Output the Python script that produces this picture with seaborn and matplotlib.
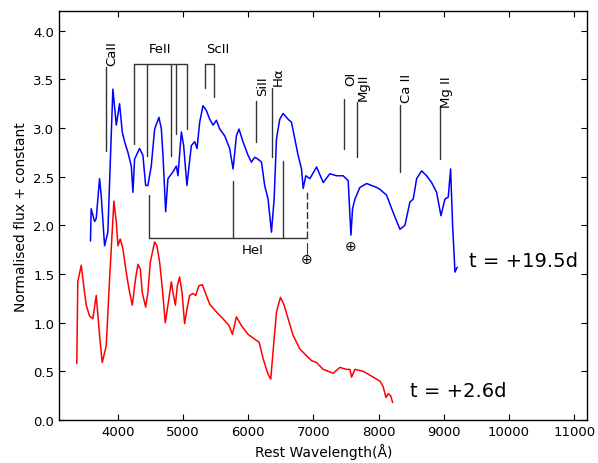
import numpy as np
import pandas as pd
import seaborn as sns
import matplotlib.pyplot as plt

# spectrum at t = +19.5d (offset by constant)
wave_195 = [3580, 3590, 3643, 3668, 3719, 3744, 3796, 3846, 3923, 3976, 4026, 4067, 4103,
            4154, 4206, 4231, 4256, 4333, 4384, 4426, 4461, 4512, 4564, 4630, 4667, 4692,
            4733, 4768, 4845, 4897, 4922, 4974, 5009, 5059, 5127, 5179, 5214, 5255, 5306,
            5358, 5409, 5460, 5512, 5562, 5639, 5715, 5767, 5818, 5858, 5919, 5997, 6048,
            6100, 6150, 6203, 6252, 6304, 6356, 6397, 6433, 6483, 6535, 6612, 6663, 6714,
            6765, 6817, 6843, 6883, 6945, 7048, 7150, 7251, 7354, 7455, 7533, 7575, 7600,
            7636, 7713, 7816, 7969, 8020, 8122, 8224, 8327, 8403, 8480, 8531, 8583, 8660,
            8736, 8813, 8889, 8956, 9017, 9068, 9104, 9135, 9171, 9206]
flux_195 = [1.84, 2.17, 2.04, 2.07, 2.48, 2.31, 1.79, 1.93, 3.40, 3.03, 3.25, 2.96, 2.86,
            2.75, 2.61, 2.34, 2.68, 2.79, 2.72, 2.41, 2.41, 2.61, 2.99, 3.11, 2.99, 2.72,
            2.14, 2.48, 2.55, 2.61, 2.51, 2.96, 2.82, 2.41, 2.82, 2.86, 2.79, 3.06, 3.23,
            3.18, 3.09, 3.03, 3.08, 2.99, 2.92, 2.79, 2.58, 2.92, 2.99, 2.86, 2.72, 2.65,
            2.70, 2.68, 2.65, 2.41, 2.27, 1.93, 2.27, 2.89, 3.09, 3.15, 3.09, 3.06, 2.89,
            2.72, 2.58, 2.38, 2.51, 2.48, 2.60, 2.44, 2.53, 2.51, 2.51, 2.46, 1.90, 2.17,
            2.27, 2.39, 2.43, 2.39, 2.37, 2.31, 2.13, 1.96, 2.00, 2.24, 2.27, 2.48, 2.56,
            2.51, 2.44, 2.34, 2.10, 2.27, 2.29, 2.58, 2.00, 1.52, 1.57]

# spectrum at t = +2.6d
wave_26 = [3370, 3385, 3438, 3463, 3514, 3565, 3616, 3668, 3719, 3760, 3821, 3873, 3939,
           3976, 4001, 4036, 4077, 4128, 4169, 4221, 4271, 4308, 4344, 4374, 4426, 4461,
           4497, 4564, 4599, 4641, 4682, 4727, 4768, 4820, 4845, 4882, 4912, 4947, 4984,
           5024, 5060, 5101, 5152, 5194, 5244, 5296, 5357, 5409, 5512, 5613, 5705, 5757,
           5818, 5895, 5997, 6100, 6166, 6228, 6304, 6345, 6380, 6433, 6494, 6545, 6612,
           6688, 6791, 6894, 6970, 7048, 7150, 7303, 7405, 7507, 7560, 7585, 7636, 7764,
           7918, 8020, 8071, 8112, 8147, 8184, 8215]
flux_26 = [0.58, 1.42, 1.59, 1.45, 1.18, 1.07, 1.04, 1.28, 0.87, 0.59, 0.76, 1.45, 2.25,
           2.03, 1.79, 1.86, 1.76, 1.52, 1.35, 1.18, 1.45, 1.60, 1.55, 1.31, 1.16, 1.31,
           1.62, 1.83, 1.79, 1.62, 1.35, 1.00, 1.18, 1.42, 1.31, 1.18, 1.38, 1.47, 1.31,
           0.99, 1.14, 1.28, 1.30, 1.28, 1.38, 1.39, 1.28, 1.19, 1.11, 1.04, 0.97, 0.88,
           1.06, 0.97, 0.88, 0.83, 0.80, 0.63, 0.47, 0.42, 0.70, 1.11, 1.26, 1.19, 1.04,
           0.87, 0.73, 0.66, 0.61, 0.59, 0.52, 0.48, 0.54, 0.52, 0.52, 0.44, 0.52, 0.50,
           0.44, 0.40, 0.34, 0.23, 0.27, 0.25, 0.18]

# single line identifications: label, wavelength, top, bottom, label height
single_labels = ["CaII", "SiII", "Hα", "OI", "MgII", "Ca II", "Mg II"]
single_wave = [3811, 6115, 6366, 7472, 7662, 8327, 8942]
single_top = [3.63, 3.28, 3.41, 3.30, 3.27, 3.24, 3.23]
single_bot = [2.76, 2.86, 2.70, 2.78, 2.70, 2.55, 2.68]
single_text_y = [3.65, 3.34, 3.44, 3.44, 3.29, 3.27, 3.22]

# bracketed identifications
feii_wave = [4246, 4452, 4814, 4897, 5060]
feii_bot = [2.84, 2.71, 2.71, 2.94, 2.99]
scii_wave = [5343, 5475]
scii_bot = [3.41, 3.32]
hei_wave = [4472, 5767, 6535, 6894]
hei_top = [2.31, 2.46, 2.66, 2.36]
telluric_wave = [6894, 7575]
telluric_y = [1.65, 1.79]

df_195 = pd.DataFrame({"wave": wave_195, "flux": flux_195})
df_26 = pd.DataFrame({"wave": wave_26, "flux": flux_26})

sns.set_style("ticks")
plt.rcParams.update({
    "font.family": ["DejaVu Sans"],
    "text.color": "black",
    "axes.labelcolor": "black",
    "xtick.color": "black",
    "ytick.color": "black",
    "xtick.direction": "in",
    "ytick.direction": "in",
    "xtick.top": True,
    "ytick.right": True,
    "xtick.major.size": 4,
    "ytick.major.size": 4,
    "axes.edgecolor": "black",
    "axes.linewidth": 1.0,
    "xtick.labelsize": 9.5,
    "ytick.labelsize": 9.5,
})

fig = plt.figure(figsize=(5.98, 4.64), dpi=100)
ax = fig.add_axes([0.099, 0.0927, 0.883, 0.8808])

sns.lineplot(data=df_195, x="wave", y="flux", color="#0000ff", lw=1.1,
             sort=False, estimator=None, ax=ax)
sns.lineplot(data=df_26, x="wave", y="flux", color="#ff0000", lw=1.1,
             sort=False, estimator=None, ax=ax)

lc = "0.2"
for lab, w, t, b, ty in zip(single_labels, single_wave, single_top, single_bot, single_text_y):
    ax.plot([w, w], [b, t], color=lc, lw=1.0)
    ax.text(w, ty, lab, rotation=90, ha="left", va="bottom", fontsize=9.5)

# FeII bracket
ax.plot([feii_wave[0], feii_wave[-1]], [3.66, 3.66], color=lc, lw=1.0)
for w, b in zip(feii_wave, feii_bot):
    ax.plot([w, w], [b, 3.66], color=lc, lw=1.0)
ax.text(4641, 3.82, "FeII", ha="center", va="center", fontsize=9.5)

# ScII bracket
ax.plot([scii_wave[0], scii_wave[-1]], [3.66, 3.66], color=lc, lw=1.0)
for w, b in zip(scii_wave, scii_bot):
    ax.plot([w, w], [b, 3.66], color=lc, lw=1.0)
ax.text(5532, 3.82, "ScII", ha="center", va="center", fontsize=9.5)

# HeI bracket
ax.plot([hei_wave[0], hei_wave[-1]], [1.87, 1.87], color=lc, lw=1.0)
for w, t in zip(hei_wave[:-1], hei_top[:-1]):
    ax.plot([w, w], [1.87, t], color=lc, lw=1.0)
ax.plot([hei_wave[-1], hei_wave[-1]], [1.87, hei_top[-1]], color=lc, lw=1.0,
        ls=(0, (5, 2)))
ax.text(6069, 1.75, "HeI", ha="center", va="center", fontsize=9.5)

# telluric markers
ax.plot([telluric_wave[0], telluric_wave[0]], [1.70, 1.82], color=lc, lw=0.8)
for w, y in zip(telluric_wave, telluric_y):
    ax.text(w, y, "\u2295", ha="center", va="center", fontsize=10)

ax.text(9385, 1.64, "t = +19.5d", ha="left", va="center", fontsize=14)
ax.text(8478, 0.30, "t = +2.6d", ha="left", va="center", fontsize=14)

ax.set_xlim(3100, 11200)
ax.set_ylim(0, 4.2)
ax.set_xticks(np.arange(4000, 11001, 1000))
ax.set_yticks(np.arange(0, 4.01, 0.5))
ax.set_xlabel("Rest Wavelength(Å)", fontsize=10)
ax.set_ylabel("Normalised flux + constant", fontsize=10)

fig.savefig("out.png", dpi=100)
